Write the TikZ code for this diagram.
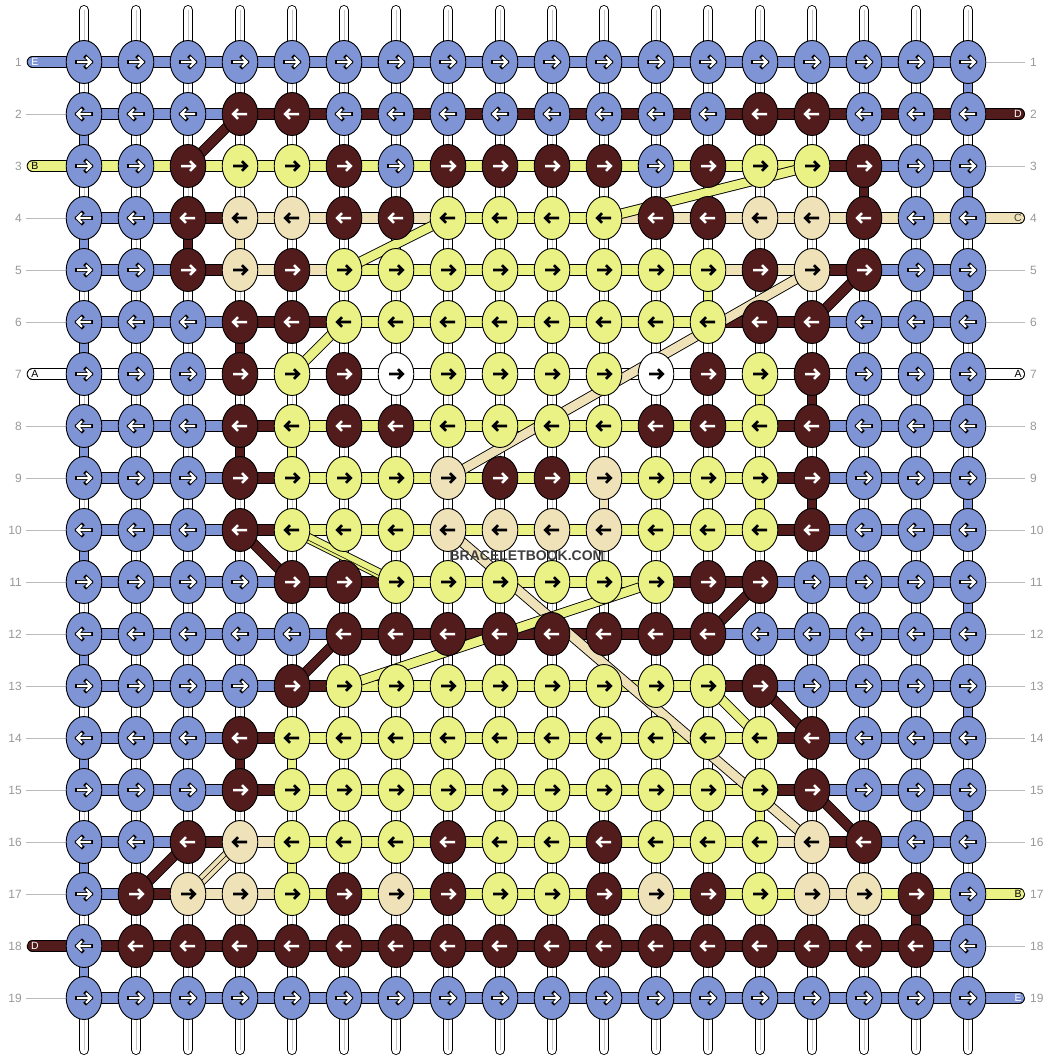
\documentclass[tikz,border=0pt]{standalone}
\usepackage{fontspec}
\setmainfont{Liberation Sans}
\usetikzlibrary{shapes.geometric}
\definecolor{cB}{HTML}{7F94D5}
\definecolor{cR}{HTML}{521C1C}
\definecolor{cY}{HTML}{EAF285}
\definecolor{cG}{HTML}{F0E2B8}
\definecolor{cW}{HTML}{FFFFFF}
\definecolor{lbl}{HTML}{999999}
\definecolor{guidec}{HTML}{BBBBBB}
\definecolor{wmark}{HTML}{3E3E3E}
\def\tB{B}\def\tR{R}
\newcommand\bbv[3]{\pgfmathtruncatemacro\bbn{#2+1}%
  \draw[line width=10.6pt,black] (p#1-#2)--(p#1-\bbn);%
  \draw[line width=8.8pt,#3] (p#1-#2)--(p#1-\bbn);}
\newcommand\bbd[3]{\draw[line width=10.4pt,black] (#1)--(#2);%
  \draw[line width=8.6pt,#3] (#1)--(#2);}
\newcommand\bbstub[3]{\draw[line width=11.4pt,black,line cap=round] (#1)--(#2);%
  \draw[line width=9.6pt,#3,line cap=round] (#1)--(#2);}
\tikzset{
  knot/.style={ellipse, draw=black, line width=0.9pt, minimum width=35.6pt, minimum height=43pt, inner sep=0pt},
  rownum/.style={text=lbl, font=\fontsize{12}{14}\selectfont, inner sep=0pt},
  guide/.style={draw=guidec, line width=1pt},
  tag/.style={font=\fontsize{10.5}{12}\selectfont, inner sep=0pt},
}
\begin{document}
\begin{tikzpicture}[x=1pt,y=-1pt]
\useasboundingbox (0,0) rectangle (1052,1060);
\fill[white] (0,0) rectangle (1052,1060);
% grid coordinates
\foreach \j in {1,...,19}{\foreach \i in {1,...,18}{%
  \coordinate (p\i-\j) at ({84+52*(\i-1)},{62+52*(\j-1)});}}
% vertical base strings
\foreach \i in {1,...,18}{%
  \coordinate (t\i) at ({84+52*(\i-1)},10.3);
  \coordinate (b\i) at ({84+52*(\i-1)},1049.7);
  \draw[line width=10.6pt,black,line cap=round] (t\i)--(b\i);
  \draw[line width=8.8pt,white,line cap=round] (t\i)--(b\i);
  \draw[line width=0.8pt,gray!45] (t\i)--(b\i);}
% coloured vertical gaps
\foreach \r in {2,4,...,18}{\bbv{1}{\r}{cB}}
\foreach \r in {1,3,...,17}{\bbv{18}{\r}{cB}}
\bbv{3}{4}{cR}\bbv{4}{4}{cG}\bbv{4}{6}{cR}\bbv{4}{8}{cR}\bbv{5}{8}{cY}
\bbv{16}{3}{cR}\bbv{13}{5}{cY}\bbv{15}{7}{cR}\bbv{15}{9}{cR}\bbv{14}{7}{cY}
\bbv{14}{9}{cY}\bbv{11}{9}{cG}\bbv{4}{14}{cR}\bbv{5}{14}{cY}\bbv{5}{16}{cY}
\bbv{14}{15}{cY}\bbv{17}{17}{cR}
% guide lines
\foreach \j in {2,4,5,6,8,9,10,11,12,13,14,15,16,17,19}{%
  \coordinate (gl\j) at (26,{62+52*(\j-1)}); \draw[guide] (gl\j)--(p1-\j);}
\foreach \j in {1,3,5,6,8,9,10,11,12,13,14,15,16,18}{%
  \coordinate (gr\j) at (1025,{62+52*(\j-1)}); \draw[guide] (p18-\j)--(gr\j);}
% stubs
\coordinate (sl1) at (32.4,62); \coordinate (sl3) at (32.4,166);
\coordinate (sl7) at (32.4,374); \coordinate (sl18) at (32.4,946);
\coordinate (sr2) at (1019.3,114); \coordinate (sr4) at (1019.3,218);
\coordinate (sr7) at (1019.3,374); \coordinate (sr17) at (1019.3,894);
\coordinate (sr19) at (1019.3,998);
\bbstub{sl1}{p1-1}{cB}\bbstub{sl3}{p1-3}{cY}\bbstub{sl7}{p1-7}{cW}\bbstub{sl18}{p1-18}{cR}
\bbstub{p18-2}{sr2}{cR}\bbstub{p18-4}{sr4}{cG}\bbstub{p18-7}{sr7}{cW}
\bbstub{p18-17}{sr17}{cY}\bbstub{p18-19}{sr19}{cB}
% horizontal segments
\foreach \row [count=\j] in {%
{B,B,B,B,B,B,B,B,B,B,B,B,B,B,B,B,B},
{B,B,B,R,R,R,R,R,R,R,R,R,R,R,R,R,R},
{Y,Y,Y,Y,Y,Y,Y,Y,Y,Y,Y,Y,Y,Y,R,B,B},
{B,B,R,G,G,G,G,Y,Y,Y,G,G,G,G,G,G,G},
{B,B,R,G,G,Y,Y,Y,Y,Y,Y,Y,G,G,R,B,B},
{B,B,B,R,R,Y,Y,Y,Y,Y,Y,Y,R,R,B,B,B},
{W,W,W,W,W,W,W,W,W,W,W,W,W,W,W,W,W},
{B,B,B,R,Y,Y,Y,Y,Y,Y,Y,Y,Y,R,B,B,B},
{B,B,B,R,Y,Y,Y,Y,Y,Y,Y,Y,Y,R,B,B,B},
{B,B,B,R,Y,Y,Y,Y,Y,Y,Y,Y,Y,R,B,B,B},
{B,B,B,B,R,R,Y,Y,Y,Y,Y,R,R,B,B,B,B},
{B,B,B,B,B,R,R,R,R,R,R,R,B,B,B,B,B},
{B,B,B,B,R,Y,Y,Y,Y,Y,Y,Y,R,B,B,B,B},
{B,B,B,R,Y,Y,Y,Y,Y,Y,Y,Y,Y,R,B,B,B},
{B,B,B,R,Y,Y,Y,Y,Y,Y,Y,Y,Y,R,B,B,B},
{B,B,R,G,Y,Y,Y,Y,Y,Y,Y,Y,Y,G,R,B,B},
{B,R,G,G,Y,Y,Y,Y,Y,Y,Y,Y,Y,Y,G,Y,Y},
{R,R,R,R,R,R,R,R,R,R,R,R,R,R,R,R,B},
{B,B,B,B,B,B,B,B,B,B,B,B,B,B,B,B,B}}{%
  \foreach \c [count=\i] in \row {%
    \pgfmathtruncatemacro\ii{\i+1}%
    \edef\col{c\c}%
    \draw[line width=11.4pt,black] (p\i-\j)--(p\ii-\j);
    \draw[line width=9.6pt,color=\col] (p\i-\j)--(p\ii-\j);
  }}
% diagonal strings
\bbd{p4-2}{p3-3}{cR}
\bbd{p15-3}{p11-4}{cY}
\bbd{p8-4}{p6-5}{cY}
\bbd{p15-5}{p8-9}{cG}
\bbd{p16-5}{p15-6}{cR}
\bbd{p6-6}{p5-7}{cY}
\bbd{p4-10}{p5-11}{cR}
\bbd{p5-10}{p7-11}{cY}
\draw[line width=0.6pt,black] ([yshift=-2pt]p5-10)--([yshift=-2pt]p7-11);
\bbd{p8-10}{p15-16}{cG}
\bbd{p12-11}{p6-13}{cY}
\bbd{p14-11}{p13-12}{cR}
\bbd{p6-12}{p5-13}{cR}
\bbd{p14-13}{p15-14}{cR}
\bbd{p13-13}{p14-14}{cY}
\bbd{p15-15}{p16-16}{cR}
\bbd{p3-16}{p2-17}{cR}
\bbd{p4-16}{p3-17}{cG}
\draw[line width=0.6pt,black] (p4-16)--(p3-17);
% knots
\foreach \row [count=\j] in {%
{B,B,B,B,B,B,B,B,B,B,B,B,B,B,B,B,B,B},
{B,B,B,R,R,B,B,B,B,B,B,B,B,R,R,B,B,B},
{B,B,R,Y,Y,R,B,R,R,R,R,B,R,Y,Y,R,B,B},
{B,B,R,G,G,R,R,Y,Y,Y,Y,R,R,G,G,R,B,B},
{B,B,R,G,R,Y,Y,Y,Y,Y,Y,Y,Y,R,G,R,B,B},
{B,B,B,R,R,Y,Y,Y,Y,Y,Y,Y,Y,R,R,B,B,B},
{B,B,B,R,Y,R,W,Y,Y,Y,Y,W,R,Y,R,B,B,B},
{B,B,B,R,Y,R,R,Y,Y,Y,Y,R,R,Y,R,B,B,B},
{B,B,B,R,Y,Y,Y,G,R,R,G,Y,Y,Y,R,B,B,B},
{B,B,B,R,Y,Y,Y,G,G,G,G,Y,Y,Y,R,B,B,B},
{B,B,B,B,R,R,Y,Y,Y,Y,Y,Y,R,R,B,B,B,B},
{B,B,B,B,B,R,R,R,R,R,R,R,R,B,B,B,B,B},
{B,B,B,B,R,Y,Y,Y,Y,Y,Y,Y,Y,R,B,B,B,B},
{B,B,B,R,Y,Y,Y,Y,Y,Y,Y,Y,Y,Y,R,B,B,B},
{B,B,B,R,Y,Y,Y,Y,Y,Y,Y,Y,Y,Y,R,B,B,B},
{B,B,R,G,Y,Y,Y,R,Y,Y,R,Y,Y,Y,G,R,B,B},
{B,R,G,G,Y,R,G,R,Y,Y,R,G,R,Y,G,G,R,B},
{B,R,R,R,R,R,R,R,R,R,R,R,R,R,R,R,R,B},
{B,B,B,B,B,B,B,B,B,B,B,B,B,B,B,B,B,B}}{%
  \pgfmathtruncatemacro\dd{1-2*mod(\j+1,2)}%
  \pgfmathsetmacro\yy{62+52*(\j-1)}%
  \foreach \c [count=\i] in \row {%
    \pgfmathsetmacro\xx{84+52*(\i-1)}%
    \edef\col{c\c}%
    \node[knot, fill=\col] (k\i-\j) at (p\i-\j) {};
    \ifx\c\tB
      \draw[line width=3.9pt,black,line cap=rect,line join=miter,shift={(\xx,\yy)},xscale=\dd]
        (-7,0)--(6.6,0) (2,-4.8)--(6.8,0)--(2,4.8);
      \draw[line width=2.1pt,white,line cap=butt,line join=miter,shift={(\xx,\yy)},xscale=\dd]
        (-7,0)--(6.6,0) (2,-4.8)--(6.8,0)--(2,4.8);
    \else\ifx\c\tR
      \draw[line width=2.5pt,white,line cap=butt,line join=miter,shift={(\xx,\yy)},xscale=\dd]
        (-7,0)--(6.6,0) (2,-4.8)--(6.8,0)--(2,4.8);
    \else
      \draw[line width=2.6pt,black,line cap=butt,line join=miter,shift={(\xx,\yy)},xscale=\dd]
        (-7,0)--(6.6,0) (2,-4.8)--(6.8,0)--(2,4.8);
    \fi\fi
  }}
% row numbers
\foreach \j in {1,...,19}{%
  \node[rownum,anchor=east] (nl\j) at (22,{62+52*(\j-1)}) {\j};
  \node[rownum,anchor=west] (nr\j) at (1030,{62+52*(\j-1)}) {\j};}
% string tags
\node[tag,text=white] (tagl1) at (35,62) {E};
\node[tag,text=black] (tagl3) at (35,166) {B};
\node[tag,text=black] (tagl7) at (35,374) {A};
\node[tag,text=white] (tagl18) at (35,946) {D};
\node[tag,text=white] (tagr2) at (1018,114) {D};
\node[tag,text=black!75] (tagr4) at (1018,218) {C};
\node[tag,text=black] (tagr7) at (1018,374) {A};
\node[tag,text=black] (tagr17) at (1018,894) {B};
\node[tag,text=white] (tagr19) at (1018,998) {E};
% watermark
\node[font=\bfseries\fontsize{14}{16}\selectfont,text=wmark,inner sep=0pt] (wm) at (527,556) {BRACELETBOOK.COM};
\end{tikzpicture}
\end{document}
